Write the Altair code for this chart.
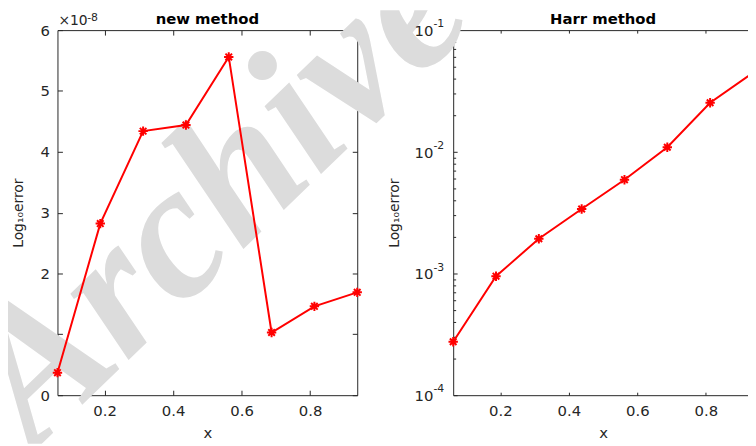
import altair as alt
import pandas as pd

# ---------------- data ----------------
x_nodes = [0.0625, 0.1875, 0.3125, 0.4375, 0.5625, 0.6875, 0.8125, 0.9375]
new_err = [0.37e-8, 2.82e-8, 4.34e-8, 4.44e-8, 5.56e-8, 1.03e-8, 1.46e-8, 1.69e-8]
harr_err = [2.75e-4, 9.5e-4, 1.93e-3, 3.39e-3, 5.9e-3, 1.09e-2, 2.53e-2, 4.46e-2]

x_ticks = [0.2, 0.4, 0.6, 0.8]
new_y_ticks = [0, 1e-8, 2e-8, 3e-8, 4e-8, 5e-8, 6e-8]
log_major = [1e-4, 1e-3, 1e-2, 1e-1]
log_base = ["10", "10", "10", "10"]
log_exponents = ["-4", "-3", "-2", "-1"]
log_minor = [2e-4, 3e-4, 4e-4, 5e-4, 6e-4, 7e-4, 8e-4, 9e-4,
             2e-3, 3e-3, 4e-3, 5e-3, 6e-3, 7e-3, 8e-3, 9e-3,
             2e-2, 3e-2, 4e-2, 5e-2, 6e-2, 7e-2, 8e-2, 9e-2]

panel_titles = ["new method", "Harr method"]
x_title = "x"
y_title = "Log\u2081\u2080error"
factor_base = ["\u00d710"]
factor_exp = ["-8"]
watermark = ["Archive"]

# ---------------- layout / style ----------------
W, H = 748, 438
L_X = [50, 353]
R_X = [450, 753]
Y_R = [389, 20]
DARK = "#262626"
RED = "#ff0000"
FONT = "DejaVu Sans"
ASTERISK = "M-1,0L1,0M0,-1L0,1M-0.7,-0.7L0.7,0.7M-0.7,0.7L0.7,-0.7"

df_new = pd.DataFrame({"x": x_nodes, "err": new_err})
df_harr = pd.DataFrame({"x": x_nodes, "err": harr_err})

xs_L = alt.Scale(domain=[0.0625, 0.9375], range=L_X, nice=False, zero=False)
ys_L = alt.Scale(domain=[0, 6e-8], range=Y_R, nice=False, zero=False)
xs_R = alt.Scale(domain=[0.0625, 0.9375], range=R_X, nice=False, zero=False)
ys_R = alt.Scale(type="log", domain=[1e-4, 1e-1], range=Y_R, nice=False)


def ax(**kw):
    base = dict(grid=False, domainColor=DARK, tickColor=DARK, labelColor=DARK,
                titleColor=DARK, labelFont=FONT, titleFont=FONT, labelFontSize=15,
                titleFontSize=14, titleFontWeight="normal", labelFlush=False,
                domainWidth=1, tickWidth=1, labelOverlap=False)
    base.update(kw)
    return alt.Axis(**base)


def tick_axis(orient, offset, values, size):
    return ax(orient=orient, offset=offset, values=values, ticks=True, tickSize=size,
              labels=False, domain=False)


def frame_axis(orient, offset, values):
    return ax(orient=orient, offset=offset, values=values, ticks=False, tickSize=0,
              labels=False, domain=True)


def hidden(df, xs, ys, xaxis, yaxis):
    return alt.Chart(df).mark_point(opacity=0).encode(
        x=alt.X("x:Q", scale=xs, axis=xaxis, title=None),
        y=alt.Y("err:Q", scale=ys, axis=yaxis, title=None),
    )


# ---------------- watermark ----------------
wm = alt.Chart(pd.DataFrame({"t": watermark})).mark_text(
    font="Liberation Serif", fontStyle="italic", fontWeight="bold", fontSize=194,
    angle=316, align="left", baseline="alphabetic", color="#dcdcdc", clip=True
).encode(text="t:N", x=alt.value(26), y=alt.value(446))

# ---------------- left panel ----------------
L_line = alt.Chart(df_new).mark_line(color=RED, strokeWidth=2).encode(
    x=alt.X("x:Q", scale=xs_L, title=x_title,
            axis=ax(orient="bottom", offset=-49, values=x_ticks, ticks=False, tickSize=0,
                    labelPadding=9, format=".1f", titleY=43, titleBaseline="alphabetic",
                    titleFontSize=15)),
    y=alt.Y("err:Q", scale=ys_L, title=y_title,
            axis=ax(orient="left", offset=-50, values=new_y_ticks, ticks=False, tickSize=0,
                    labelPadding=8, labelExpr="format(datum.value*1e8, 'd')",
                    titleX=-35, titleY=204.5, titleAngle=270, titleAlign="center",
                    titleBaseline="alphabetic")),
)
L_pts = alt.Chart(df_new).mark_point(shape=ASTERISK, size=90, filled=False,
                                      strokeWidth=2, color=RED, opacity=1).encode(
    x=alt.X("x:Q", scale=xs_L, axis=None),
    y=alt.Y("err:Q", scale=ys_L, axis=None),
)
L_t1 = hidden(df_new, xs_L, ys_L, tick_axis("bottom", -54, x_ticks, 5),
              tick_axis("left", -55, new_y_ticks, 5))
L_t2 = hidden(df_new, xs_L, ys_L, frame_axis("top", -20, x_ticks),
              frame_axis("right", -(W - L_X[1]), new_y_ticks))
L_t3 = hidden(df_new, xs_L, ys_L, tick_axis("top", -25, x_ticks, 5),
              tick_axis("right", -(W - L_X[1] + 5), new_y_ticks, 5))

L_title = alt.Chart(pd.DataFrame({"t": panel_titles[:1]})).mark_text(
    font=FONT, fontSize=15, fontWeight="bold", color="black", align="center",
    baseline="alphabetic").encode(text="t:N", x=alt.value((L_X[0] + L_X[1]) / 2),
                                  y=alt.value(13.7))
L_fac = alt.Chart(pd.DataFrame({"t": factor_base})).mark_text(
    font=FONT, fontSize=14, color=DARK, align="left", baseline="alphabetic").encode(
    text="t:N", x=alt.value(51), y=alt.value(15))
L_fac_exp = alt.Chart(pd.DataFrame({"t": factor_exp})).mark_text(
    font=FONT, fontSize=11, color=DARK, align="left", baseline="alphabetic").encode(
    text="t:N", x=alt.value(80), y=alt.value(10.5))

# ---------------- right panel ----------------
R_line = alt.Chart(df_harr).mark_line(color=RED, strokeWidth=2, clip=True).encode(
    x=alt.X("x:Q", scale=xs_R, title=x_title,
            axis=ax(orient="bottom", offset=-49, values=x_ticks, ticks=False, tickSize=0,
                    labelPadding=9, format=".1f", titleY=43, titleBaseline="alphabetic",
                    titleFontSize=15)),
    y=alt.Y("err:Q", scale=ys_R, title=y_title,
            axis=ax(orient="left", offset=-R_X[0], values=log_major, ticks=False,
                    tickSize=0, labels=False, titleX=-55, titleY=204.5, titleAngle=270,
                    titleAlign="center", titleBaseline="alphabetic")),
)
R_pts = alt.Chart(df_harr).mark_point(shape=ASTERISK, size=90, filled=False,
                                       strokeWidth=2, color=RED, opacity=1).encode(
    x=alt.X("x:Q", scale=xs_R, axis=None),
    y=alt.Y("err:Q", scale=ys_R, axis=None),
)
R_t1 = hidden(df_harr, xs_R, ys_R, tick_axis("bottom", -52, x_ticks, 3),
              tick_axis("left", -(R_X[0] + 4), log_major, 4))
R_t2 = hidden(df_harr, xs_R, ys_R, frame_axis("top", -20, x_ticks),
              tick_axis("left", -(R_X[0] + 2.5), log_minor, 2.5))
R_t3 = hidden(df_harr, xs_R, ys_R, tick_axis("top", -23, x_ticks, 3), None)

df_lab = pd.DataFrame({"v": log_major, "base": log_base, "exp": log_exponents})
R_lab_base = alt.Chart(df_lab).mark_text(
    font=FONT, fontSize=15, color=DARK, align="right", baseline="alphabetic", dy=6
).encode(text="base:N", x=alt.value(430), y=alt.Y("v:Q", scale=ys_R, axis=None))
R_lab_exp = alt.Chart(df_lab).mark_text(
    font=FONT, fontSize=11, color=DARK, align="left", baseline="alphabetic", dy=-3
).encode(text="exp:N", x=alt.value(430), y=alt.Y("v:Q", scale=ys_R, axis=None))

R_title = alt.Chart(pd.DataFrame({"t": panel_titles[1:]})).mark_text(
    font=FONT, fontSize=15, fontWeight="bold", color="black", align="center",
    baseline="alphabetic").encode(text="t:N", x=alt.value((R_X[0] + R_X[1]) / 2),
                                  y=alt.value(13.7))

chart = alt.layer(
    wm,
    L_t1, L_t2, L_t3, L_line, L_pts, L_title, L_fac, L_fac_exp,
    R_t1, R_t2, R_t3, R_line, R_pts, R_lab_base, R_lab_exp, R_title,
).resolve_scale(
    x="independent", y="independent"
).resolve_axis(
    x="independent", y="independent"
).properties(
    width=W, height=H, padding=0, autosize=alt.AutoSizeParams(type="none"),
    background="white",
).configure_view(strokeWidth=0)

chart.save("out.html", embed_options={"renderer": "svg", "actions": False})
